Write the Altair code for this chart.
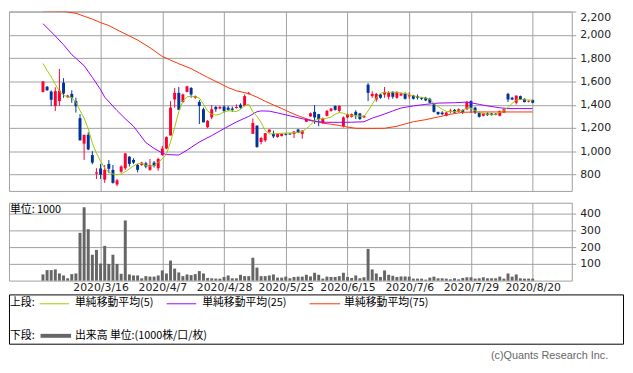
import altair as alt
import pandas as pd

# ---------------- data ----------------
opens = [1510, 1555, 1513, 1389, 1431, 1589, 1465, 1493, 1431, 1285,
         1066, 1142, 968, 809, 853, 757, 892, 841, 715, 825,
         855, 954, 926, 883, 883, 897, 841, 903, 855, 968,
         1024, 1136, 1445, 1502, 1423, 1510, 1544, 1460, 1423, 1361,
         1207, 1291, 1381, 1367, 1384, 1375, 1367, 1372, 1400, 1389,
         1494, 1150, 1221, 1080, 1094, 1164, 1150, 1122, 1131, 1150,
         1153, 1150, 1187, 1150, 1254, 1300, 1339, 1319, 1243, 1305,
         1347, 1389, 1347, 1215, 1291, 1296, 1339, 1325, 1291, 1572,
         1474, 1445, 1488, 1488, 1468, 1510, 1460, 1479, 1496, 1472,
         1479, 1474, 1460, 1460, 1451, 1403, 1339, 1333, 1305, 1342,
         1356, 1339, 1356, 1361, 1431, 1375, 1333, 1305, 1325, 1325,
         1322, 1305, 1333, 1493, 1460, 1417, 1474, 1451, 1426, 1440]
highs = [1603, 1560, 1524, 1550, 1707, 1628, 1485, 1524, 1460, 1319,
         1142, 1164, 1001, 855, 892, 883, 926, 883, 763, 880,
         987, 959, 940, 892, 910, 911, 934, 917, 945, 1046,
         1128, 1431, 1544, 1552, 1496, 1563, 1552, 1479, 1440, 1375,
         1268, 1398, 1389, 1389, 1395, 1389, 1384, 1403, 1412, 1488,
         1510, 1282, 1221, 1125, 1156, 1190, 1178, 1155, 1155, 1156,
         1153, 1173, 1192, 1180, 1282, 1333, 1398, 1322, 1290, 1356,
         1372, 1395, 1395, 1300, 1325, 1325, 1353, 1330, 1310, 1586,
         1516, 1502, 1493, 1552, 1516, 1516, 1516, 1505, 1507, 1507,
         1485, 1488, 1468, 1468, 1460, 1417, 1339, 1345, 1340, 1365,
         1362, 1368, 1360, 1431, 1437, 1383, 1339, 1330, 1333, 1330,
         1328, 1350, 1365, 1502, 1468, 1479, 1479, 1455, 1440, 1445]
lows = [1505, 1520, 1389, 1347, 1389, 1460, 1460, 1417, 1333, 1094,
        926, 1010, 889, 763, 763, 729, 813, 723, 701, 815,
        841, 870, 892, 819, 875, 855, 833, 861, 833, 962,
        1018, 1136, 1375, 1356, 1417, 1507, 1460, 1451, 1235, 1249,
        1198, 1277, 1339, 1361, 1333, 1347, 1339, 1367, 1367, 1389,
        1488, 1150, 1030, 1060, 1080, 1160, 1114, 1118, 1128, 1137,
        1140, 1114, 1155, 1108, 1250, 1296, 1235, 1215, 1238, 1300,
        1340, 1350, 1330, 1205, 1285, 1290, 1277, 1270, 1285, 1431,
        1460, 1426, 1451, 1460, 1445, 1451, 1451, 1474, 1445, 1451,
        1445, 1445, 1440, 1431, 1412, 1333, 1311, 1311, 1300, 1325,
        1330, 1335, 1320, 1355, 1330, 1320, 1290, 1300, 1305, 1308,
        1310, 1300, 1330, 1423, 1440, 1403, 1440, 1420, 1420, 1412]
closes = [1600, 1524, 1443, 1516, 1521, 1496, 1479, 1460, 1387, 1094,
          1142, 1016, 903, 820, 799, 841, 850, 729, 751, 870,
          982, 892, 903, 841, 903, 869, 883, 875, 934, 1024,
          1122, 1375, 1502, 1356, 1488, 1558, 1488, 1474, 1389, 1249,
          1263, 1361, 1361, 1381, 1347, 1356, 1356, 1381, 1375, 1474,
          1502, 1243, 1038, 1114, 1156, 1187, 1128, 1150, 1150, 1142,
          1145, 1170, 1159, 1178, 1277, 1327, 1291, 1277, 1282, 1347,
          1367, 1356, 1389, 1291, 1319, 1319, 1311, 1277, 1305, 1502,
          1493, 1493, 1460, 1510, 1502, 1468, 1510, 1496, 1451, 1480,
          1451, 1460, 1451, 1437, 1417, 1339, 1319, 1319, 1333, 1350,
          1333, 1361, 1339, 1423, 1375, 1333, 1296, 1325, 1311, 1311,
          1314, 1347, 1361, 1445, 1445, 1479, 1445, 1423, 1431, 1417]
volumes = [37, 63, 63, 67, 43, 31, 14, 39, 43, 286,
           439, 308, 155, 184, 102, 208, 100, 155, 100, 41,
           360, 37, 31, 31, 14, 27, 24, 24, 31, 61,
           43, 120, 72, 49, 27, 37, 33, 39, 57, 43,
           16, 14, 12, 12, 22, 31, 14, 14, 35, 27,
           27, 137, 78, 27, 27, 31, 37, 18, 18, 24,
           14, 22, 24, 24, 35, 25, 47, 35, 12, 24,
           22, 22, 27, 47, 22, 16, 31, 14, 20, 190,
           67, 43, 22, 61, 35, 29, 22, 25, 25, 24,
           12, 12, 12, 6, 18, 24, 14, 14, 12, 8,
           14, 8, 16, 20, 20, 12, 14, 20, 14, 14,
           14, 24, 12, 43, 24, 37, 14, 12, 12, 12]

ma5_vals = [1754, 1695, 1640, 1575, 1516, 1482, 1466, 1462, 1420, 1350,
            1285, 1193, 1070, 985, 915, 855, 820, 806, 799, 805,
            825, 850, 875, 893, 897, 880, 872, 878, 905, 935,
            975, 1080, 1206, 1340, 1431, 1468, 1474, 1468, 1458, 1403,
            1347, 1319, 1311, 1319, 1339, 1347, 1347, 1341, 1360, 1390,
            1405, 1340, 1300, 1249, 1178, 1150, 1150, 1152, 1155, 1157,
            1158, 1160, 1163, 1170, 1195, 1226, 1263, 1277, 1280, 1284,
            1294, 1319, 1333, 1327, 1315, 1305, 1305, 1302, 1300, 1347,
            1403, 1460, 1500, 1506, 1507, 1507, 1507, 1502, 1496, 1488,
            1476, 1468, 1462, 1458, 1448, 1410, 1385, 1361, 1343, 1341,
            1341, 1345, 1353, 1372, 1370, 1350, 1333, 1325, 1319, 1319,
            1319, 1335, 1350, 1378, 1412, 1440, 1445, 1443, 1440, 1440]

ma25_idx = [0, 3, 5, 7, 10, 12, 14, 15, 18, 20, 22, 25, 27, 29, 30, 33, 35, 38,
            41, 44, 47, 50, 52, 53, 55, 57, 60, 63, 66, 69, 72, 75, 78, 80, 83,
            85, 87, 90, 93, 96, 100, 103, 106, 108, 111, 113, 119]
ma25_vals = [2096, 1990, 1915, 1830, 1735, 1635, 1530, 1465, 1350, 1280, 1215,
             1075, 1025, 985, 972, 968, 1010, 1080, 1135, 1195, 1252, 1300, 1340,
             1347, 1345, 1330, 1305, 1280, 1256, 1249, 1249, 1250, 1254, 1285,
             1320, 1347, 1372, 1390, 1403, 1414, 1417, 1423, 1403, 1390, 1374,
             1367, 1367]

ma75_idx = [0, 5, 8, 10, 12, 14, 16, 18, 21, 23, 26, 29, 31, 33, 36, 38, 40, 43,
            45, 47, 50, 52, 54, 56, 58, 60, 62, 64, 66, 68, 70, 72, 74, 76, 80,
            83, 86, 88, 90, 93, 96, 99, 102, 105, 110, 115, 119]
ma75_vals = [2205, 2202, 2185, 2160, 2135, 2105, 2080, 2043, 1990, 1955, 1890,
             1815, 1783, 1752, 1710, 1672, 1635, 1583, 1547, 1520, 1495, 1465,
             1430, 1398, 1368, 1335, 1305, 1280, 1260, 1242, 1233, 1222, 1208,
             1198, 1197, 1198, 1215, 1235, 1254, 1272, 1295, 1318, 1335, 1338,
             1338, 1338, 1338]

tick_idx = [14, 29, 44, 59, 74, 89, 104, 119]
tick_labels = ["2020/3/16", "2020/4/7", "2020/4/28", "2020/5/25",
               "2020/6/15", "2020/7/6", "2020/7/29", "2020/8/20"]
price_ticks = [800, 1000, 1200, 1400, 1600, 1800, 2000, 2200]
volume_ticks = [100, 200, 300, 400]

legend_names = ["単純移動平均(5)", "単純移動平均(25)", "単純移動平均(75)"]
volume_legend = "出来高 単位:(1000株/口/枚)"

# ---------------- styling ----------------
UP = "#ff0033"
DOWN = "#003399"
MA5C = "#99cc00"
MA25C = "#9900ff"
MA75C = "#ff3300"
VOLC = "#666666"
GRID = "#a0a0a0"
NUMFONT = "DejaVu Sans"
JPFONT = "Noto Sans CJK JP"

n = len(closes)
bars = pd.DataFrame({"i": list(range(n)), "o": opens, "h": highs,
                     "l": lows, "c": closes, "v": volumes})
ma5 = pd.DataFrame({"i": list(range(n)), "val": ma5_vals})
ma25 = pd.DataFrame({"i": ma25_idx, "val": ma25_vals})
ma75 = pd.DataFrame({"i": ma75_idx, "val": ma75_vals})

x_scale = alt.Scale(domain=[-7.0588, 127.294], nice=False, zero=False)
y_scale = alt.Scale(domain=[660, 2200], nice=False, zero=False)
v_scale = alt.Scale(domain=[0, 466], nice=False, zero=False)

label_expr = ("[" + ",".join("'%s'" % t for t in tick_labels) + "][indexof(["
              + ",".join(str(t) for t in tick_idx) + "], datum.value)]")

x_axis_up = alt.Axis(values=tick_idx, labels=False, ticks=False, domain=False,
                     grid=True, title=None)
y_axis_up = alt.Axis(orient="right", values=price_ticks, format=",d", grid=True,
                     domain=False, tickSize=4, labelPadding=4, labelFlush=True,
                     title=None)
x_axis_vol = alt.Axis(values=tick_idx, labelExpr=label_expr, ticks=False,
                      tickSize=0, domain=False, grid=True, labelPadding=1,
                      labelFlush=False, title=None)
y_axis_vol = alt.Axis(orient="right", values=volume_ticks, grid=True,
                      domain=False, tickSize=4, labelPadding=4, title=None)

W = 571
color_cond = alt.condition("datum.c >= datum.o", alt.value(UP), alt.value(DOWN))

base = alt.Chart(bars)
wick = base.mark_rule(strokeWidth=1).encode(
    x=alt.X("i:Q", scale=x_scale, axis=x_axis_up),
    y=alt.Y("l:Q", scale=y_scale, axis=y_axis_up),
    y2="h:Q",
    color=color_cond,
)
body = base.mark_bar(size=3).encode(
    x=alt.X("i:Q", scale=x_scale, axis=x_axis_up),
    y=alt.Y("o:Q", scale=y_scale, axis=y_axis_up),
    y2="c:Q",
    color=color_cond,
)


def ma_line(df, col):
    return alt.Chart(df).mark_line(color=col, strokeWidth=1, clip=True).encode(
        x=alt.X("i:Q", scale=x_scale, axis=x_axis_up),
        y=alt.Y("val:Q", scale=y_scale, axis=y_axis_up),
    )


upper = alt.layer(wick, body, ma_line(ma75, MA75C), ma_line(ma25, MA25C),
                  ma_line(ma5, MA5C)).properties(width=W, height=182)

vol_bars = base.mark_bar(size=3, color=VOLC).encode(
    x=alt.X("i:Q", scale=x_scale, axis=x_axis_vol),
    y=alt.Y("v:Q", scale=v_scale, axis=y_axis_vol),
)
one = pd.DataFrame({"k": [0]})
unit_text = alt.Chart(one).mark_text(
    text="単位: 1000", font=JPFONT, fontSize=11, color="#000",
    align="left", baseline="middle",
).encode(x=alt.value(1), y=alt.value(7))
volume = alt.layer(vol_bars, unit_text).properties(width=W, height=79)

# ---------------- legend box ----------------
def ltext(txt, x, y, **kw):
    args = dict(text=txt, font=JPFONT, fontSize=11, color="#000",
                align="left", baseline="middle")
    args.update(kw)
    return alt.Chart(one).mark_text(**args).encode(x=alt.value(x), y=alt.value(y))


def lrule(x1, x2, y, col, w):
    return alt.Chart(one).mark_rule(color=col, strokeWidth=w).encode(
        x=alt.value(x1), x2=alt.value(x2), y=alt.value(y))


box = alt.Chart(one).mark_rect(fill="transparent", stroke="#000",
                               strokeWidth=1).encode(
    x=alt.value(0.5), x2=alt.value(623.5), y=alt.value(2.5), y2=alt.value(52.5))

legend = alt.layer(
    box,
    ltext("上段:", 1, 11),
    lrule(31, 61, 11.5, MA5C, 1), ltext(legend_names[0], 67, 11),
    lrule(160, 190, 11.5, MA25C, 1), ltext(legend_names[1], 196, 11),
    lrule(305, 336, 11.5, MA75C, 1), ltext(legend_names[2], 340, 11),
    ltext("下段:", 1, 44),
    lrule(32, 63, 44, VOLC, 4), ltext(volume_legend, 67, 44),
    ltext("(c)Quants Research Inc.", 608, 65, font="Liberation Sans",
          color="#666", align="right"),
).properties(width=624, height=53,
             view=alt.ViewBackground(stroke="transparent"))

chart = alt.vconcat(upper, volume, legend, spacing=12, bounds="flush").properties(
    padding=0
).configure_view(stroke=GRID, strokeWidth=1).configure_axis(
    labelFont=NUMFONT, labelFontSize=11, labelColor="#222",
    gridColor=GRID, gridWidth=1, tickColor=GRID,
)

chart.save("out.html", embed_options={"renderer": "svg", "actions": False})
